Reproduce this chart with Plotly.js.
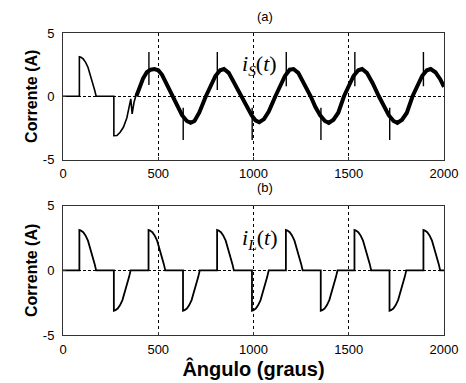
<!DOCTYPE html>
<html>
<head>
<meta charset="utf-8">
<script src="https://cdn.plot.ly/plotly-3.0.1.min.js"></script>
<style>html,body{margin:0;padding:0;background:#fff;}#chart{width:466px;height:383px;}</style>
</head>
<body>
<div id="chart"></div>
<script>
// ---- Data ----
// (b) load current i_L(t): angle (degrees) and current (A)
const iL_angle = [0,
  86,86,94,106,118,131,144,156,166,174,
  267,267,275,287,299,312,325,337,347,355,
  449,449,457,469,481,494,507,519,529,537,
  630,630,638,650,662,675,688,700,710,718,
  809,809,817,829,841,854,867,879,889,897,
  992,992,1000,1012,1024,1037,1050,1062,1072,1080,
  1170,1170,1178,1190,1202,1215,1228,1240,1250,1258,
  1353,1353,1361,1373,1385,1398,1411,1423,1433,1441,
  1530,1530,1538,1550,1562,1575,1588,1600,1610,1618,
  1714,1714,1722,1734,1746,1759,1772,1784,1794,1802,
  1892,1892,1900,1912,1924,1937,1950,1962,1972,1980,
  2000];
const iL_value = [0,
  0,3.12,3.08,2.95,2.7,2.3,1.7,1.05,0.5,0,
  0,-3.12,-3.08,-2.95,-2.7,-2.3,-1.7,-1.05,-0.5,0,
  0,3.12,3.08,2.95,2.7,2.3,1.7,1.05,0.5,0,
  0,-3.12,-3.08,-2.95,-2.7,-2.3,-1.7,-1.05,-0.5,0,
  0,3.12,3.08,2.95,2.7,2.3,1.7,1.05,0.5,0,
  0,-3.12,-3.08,-2.95,-2.7,-2.3,-1.7,-1.05,-0.5,0,
  0,3.12,3.08,2.95,2.7,2.3,1.7,1.05,0.5,0,
  0,-3.12,-3.08,-2.95,-2.7,-2.3,-1.7,-1.05,-0.5,0,
  0,3.12,3.08,2.95,2.7,2.3,1.7,1.05,0.5,0,
  0,-3.12,-3.08,-2.95,-2.7,-2.3,-1.7,-1.05,-0.5,0,
  0,3.12,3.08,2.95,2.7,2.3,1.7,1.05,0.5,0,
  0];

// (a) source current i_S(t): start-up transient
const iS_start_angle = [0,86,86,94,106,118,131,144,156,166,174,267,267,283,300,317,335,347,356,363,373,387];
const iS_start_value = [0,0,3.12,3.08,2.95,2.7,2.3,1.7,1.05,0.5,0,0,-3.12,-3.1,-2.84,-2.45,-1.71,-0.92,-0.2,-1.39,-0.47,0.3];

// (a) source current i_S(t): steady (noisy) part, centre of the band
const iS_angle = [385,400,420,440,460,480,500,520,545,575,600,625,650,670,690,715,750,775,800,825,845,870,900,940,
  965,990,1010,1030,1055,1080,1115,1140,1165,1190,1210,1235,1265,1300,1325,1350,1375,1395,1420,1445,1475,
  1500,1525,1550,1570,1595,1625,1658,1685,1710,1735,1755,1780,1805,1835,1860,1885,1910,1930,1955,1980,2000];
const iS_value = [0.0,0.7,1.4,1.9,2.1,2.15,2.05,1.7,0.95,0.0,-0.85,-1.5,-1.95,-2.1,-1.95,-1.3,0.0,0.85,1.6,2.05,2.15,1.85,1.0,0.0,
  -0.85,-1.5,-1.9,-2.05,-1.8,-1.2,0.0,0.85,1.6,2.1,2.15,1.85,1.05,0.0,-0.85,-1.5,-1.95,-2.1,-1.85,-1.3,0.0,
  0.85,1.6,2.05,2.15,1.85,1.05,0.0,-0.85,-1.5,-1.95,-2.1,-1.85,-1.3,0.0,0.85,1.6,2.05,2.15,1.9,1.35,0.75];

// (a) switching spikes on i_S(t): angle, low end, high end
const spike_angle = [451,631,810,993,1172,1354,1532,1715,1892];
const spike_low   = [0.9,-0.9,0.5,-0.9,0.8,-0.9,0.8,-0.9,0.8];
const spike_high  = [3.5,-3.45,3.5,-3.45,3.5,-3.45,3.5,-3.45,3.5];

const xTicks = [0,500,1000,1500,2000];
const yTicks = [-5,0,5];

// ---- Build traces ----
const sx = [], sy = [];
spike_angle.forEach((a,i)=>{ sx.push(a,a,null); sy.push(spike_low[i],spike_high[i],null); });

const traces = [
  {x: iS_start_angle, y: iS_start_value, xaxis:'x', yaxis:'y', mode:'lines', line:{color:'#000', width:1.6}, hoverinfo:'skip'},
  {x: iS_angle, y: iS_value, xaxis:'x', yaxis:'y', mode:'lines', line:{color:'#000', width:4}, hoverinfo:'skip'},
  {x: sx, y: sy, xaxis:'x', yaxis:'y', mode:'lines', line:{color:'#000', width:1.4}, hoverinfo:'skip', connectgaps:false},
  {x: iL_angle, y: iL_value, xaxis:'x2', yaxis:'y2', mode:'lines', line:{color:'#000', width:1.8}, hoverinfo:'skip'}
];

const tickFont = {family:'Liberation Sans, Arial, sans-serif', size:13, color:'#000'};
const titleFont = {family:'Liberation Sans, Arial, sans-serif', size:16, color:'#000', weight:'bold'};

function xa(anchor, withTitle){
  const o = {
    anchor: anchor, domain:[0,1], range:[0,2000], tickvals: xTicks, ticktext: xTicks.map(String),
    showline:true, mirror:true, linecolor:'#333', linewidth:1,
    ticks:'inside', ticklen:3, tickcolor:'#333',
    showgrid:true, gridcolor:'#000', gridwidth:1, griddash:'dot', zeroline:false,
    tickfont: tickFont, ticklabelstandoff: 2
  };
  if (withTitle) o.title = {text:'Ângulo (graus)', font:{family:'Liberation Sans, Arial, sans-serif', size:20, color:'#000', weight:'bold'}, standoff:4};
  return o;
}
function ya(anchor, domain){
  return {
    anchor: anchor, domain: domain, range:[-5,5], tickvals: yTicks, ticktext: yTicks.map(String),
    showline:true, mirror:true, linecolor:'#333', linewidth:1,
    ticks:'inside', ticklen:3, tickcolor:'#333',
    showgrid:true, gridcolor:'#000', gridwidth:1, griddash:'3px,2px', zeroline:false,
    tickfont: tickFont, ticklabelstandoff: 5,
    title:{text:'Corrente (A)', font:titleFont, standoff:1}
  };
}

const layout = {
  width:466, height:383,
  margin:{l:63, r:22, t:33, b:48},
  paper_bgcolor:'#fff', plot_bgcolor:'#fff',
  showlegend:false,
  xaxis: xa('y', false),
  yaxis: ya('x', [0.581,1]),
  xaxis2: xa('y2', true),
  yaxis2: ya('x2', [0,0.428]),
  annotations:[
    {text:'(a)', xref:'paper', yref:'paper', x:0.53, y:1, yshift:17, showarrow:false, font:{family:'Liberation Sans, Arial, sans-serif', size:13, color:'#000'}, yanchor:'middle'},
    {text:'(b)', xref:'paper', yref:'paper', x:0.53, y:0.428, yshift:18, showarrow:false, font:{family:'Liberation Sans, Arial, sans-serif', size:13, color:'#000'}, yanchor:'middle'},
    {text:'<i>i</i><sub><i>S</i></sub>(<i>t</i>)', xref:'x', yref:'y', x:1034, y:2.45, showarrow:false, font:{family:'Liberation Serif, Times New Roman, serif', size:22, color:'#000'}},
    {text:'<i>i</i><sub><i>L</i></sub>(<i>t</i>)', xref:'x2', yref:'y2', x:1034, y:2.45, showarrow:false, font:{family:'Liberation Serif, Times New Roman, serif', size:22, color:'#000'}}
  ]
};

Plotly.newPlot('chart', traces, layout, {staticPlot:true, displayModeBar:false});
</script>
</body>
</html>
